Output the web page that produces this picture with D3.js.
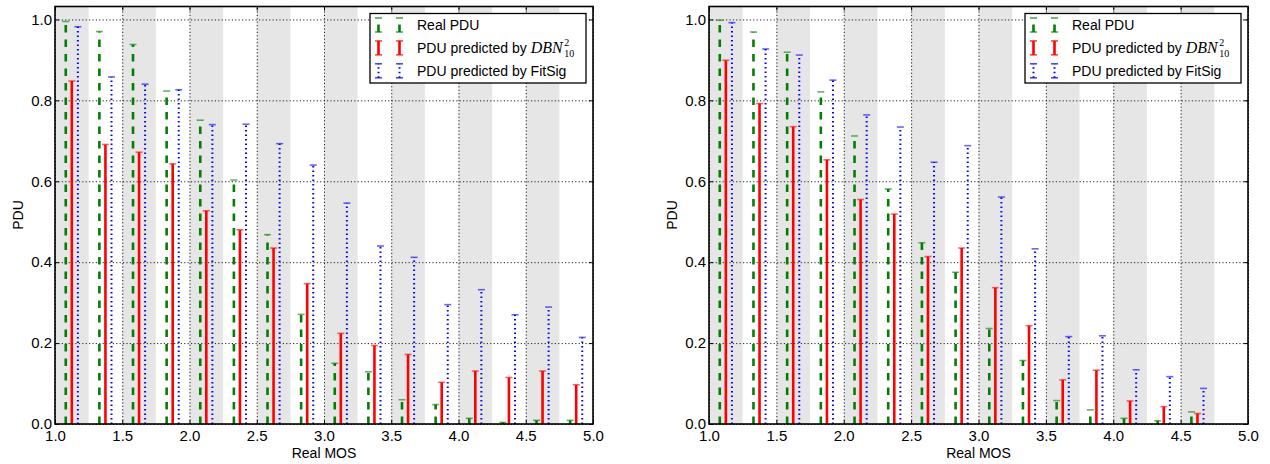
<!DOCTYPE html>
<html>
<head>
<meta charset="utf-8">
<script src="https://cdn.jsdelivr.net/npm/d3@7"></script>
<style>
  body { margin: 0; background: #fff; }
  svg { display: block; }
  text { font-family: "Liberation Sans", Arial, sans-serif; }
</style>
</head>
<body>
<div id="chart"></div>
<script>
// bin centres on the Real MOS axis (bins of width 0.25)
const mosBins = [1.125, 1.375, 1.625, 1.875, 2.125, 2.375, 2.625, 2.875,
                 3.125, 3.375, 3.625, 3.875, 4.125, 4.375, 4.625, 4.875];
const shadedBands = [1.0, 1.5, 2.0, 2.5, 3.0, 3.5, 4.0, 4.5];
const xTicks = [1.0, 1.5, 2.0, 2.5, 3.0, 3.5, 4.0, 4.5, 5.0];
const yTicks = [0.0, 0.2, 0.4, 0.6, 0.8, 1.0];

// left panel
const leftReal = [0.995, 0.970, 0.938, 0.823, 0.751, 0.603, 0.468, 0.271,
                  0.150, 0.129, 0.060, 0.048, 0.014, 0.004, 0.009, 0.009];
const leftDBN  = [0.848, 0.691, 0.672, 0.643, 0.527, 0.480, 0.435, 0.347,
                  0.224, 0.194, 0.172, 0.103, 0.131, 0.115, 0.131, 0.097];
const leftFit  = [0.982, 0.858, 0.840, 0.826, 0.740, 0.741, 0.693, 0.640,
                  0.546, 0.440, 0.412, 0.295, 0.332, 0.270, 0.289, 0.214];

// right panel (no last bin)
const rightReal = [0.998, 0.969, 0.919, 0.821, 0.712, 0.581, 0.448, 0.375,
                   0.236, 0.157, 0.058, 0.035, 0.014, 0.008, 0.030];
const rightDBN  = [0.899, 0.792, 0.735, 0.653, 0.555, 0.519, 0.414, 0.435,
                   0.337, 0.243, 0.109, 0.133, 0.057, 0.043, 0.026];
const rightFit  = [0.992, 0.927, 0.912, 0.850, 0.764, 0.734, 0.647, 0.688,
                   0.561, 0.433, 0.216, 0.218, 0.134, 0.117, 0.088];

const seriesStyle = [
  { name: "Real PDU", color: "#008000", width: 2.6, dash: "7.5,7", offset: -0.045 },
  { name: "PDU predicted by", color: "#ff0000", width: 2.6, dash: null, offset: 0 },
  { name: "PDU predicted by FitSig", color: "#0000ff", width: 2, dash: "1.5,3", offset: 0.045 }
];

const W = 1270, H = 464;
const plotTop = 6.5, plotBottom = 424;
const mathFont = "'Liberation Serif', 'DejaVu Serif', serif";

const svg = d3.select("#chart").append("svg")
  .attr("width", W).attr("height", H);

function drawPanel(x0, x1, series) {
  const x = d3.scaleLinear().domain([1, 5]).range([x0, x1]);
  const y = d3.scaleLinear().domain([0, 1.032]).range([plotBottom, plotTop]);
  const g = svg.append("g");

  // alternating grey bands
  g.selectAll("rect.band").data(shadedBands).enter().append("rect")
    .attr("x", d => x(d))
    .attr("y", plotTop)
    .attr("width", d => x(d + 0.25) - x(d))
    .attr("height", plotBottom - plotTop)
    .attr("fill", "#e6e6e6");

  // dotted grid
  const gx = g.append("g").attr("transform", `translate(0,${plotBottom})`)
    .call(d3.axisBottom(x).tickValues(xTicks).tickSize(-(plotBottom - plotTop)).tickFormat(""));
  const gy = g.append("g").attr("transform", `translate(${x0},0)`)
    .call(d3.axisLeft(y).tickValues(yTicks).tickSize(-(x1 - x0)).tickFormat(""));
  [gx, gy].forEach(a => {
    a.select(".domain").remove();
    a.selectAll("line").attr("stroke", "#222").attr("stroke-width", 1)
      .attr("stroke-dasharray", "1.2,2.2");
  });

  // error-bar style stems with caps
  series.forEach((vals, si) => {
    const s = seriesStyle[si];
    const bars = g.append("g");
    vals.forEach((v, i) => {
      const cx = x(mosBins[i] + s.offset);
      bars.append("line")
        .attr("x1", cx).attr("x2", cx)
        .attr("y1", y(0)).attr("y2", y(v))
        .attr("stroke", s.color)
        .attr("stroke-width", s.width)
        .attr("stroke-dasharray", s.dash);
      bars.append("line")
        .attr("x1", cx - 3.5).attr("x2", cx + 3.5)
        .attr("y1", y(v)).attr("y2", y(v))
        .attr("stroke", s.color)
        .attr("stroke-width", 1.6)
        .attr("stroke-opacity", 0.6);
    });
  });

  // frame
  g.append("rect")
    .attr("x", x0).attr("y", plotTop)
    .attr("width", x1 - x0).attr("height", plotBottom - plotTop)
    .attr("fill", "none").attr("stroke", "#000").attr("stroke-width", 1.6);

  // axes with inward ticks
  const ax = g.append("g").attr("transform", `translate(0,${plotBottom})`)
    .call(d3.axisBottom(x).tickValues(xTicks).tickSize(-4).tickPadding(6)
      .tickFormat(d3.format(".1f")));
  const ay = g.append("g").attr("transform", `translate(${x0},0)`)
    .call(d3.axisLeft(y).tickValues(yTicks).tickSize(-4).tickPadding(3)
      .tickFormat(d3.format(".1f")));
  const at = g.append("g").attr("transform", `translate(0,${plotTop})`)
    .call(d3.axisTop(x).tickValues(xTicks).tickSize(-4).tickFormat(""));
  const ar = g.append("g").attr("transform", `translate(${x1},0)`)
    .call(d3.axisRight(y).tickValues(yTicks).tickSize(-4).tickFormat(""));
  [ax, ay, at, ar].forEach(a => {
    a.select(".domain").remove();
    a.selectAll("line").attr("stroke", "#000").attr("stroke-width", 1);
    a.selectAll("text").attr("fill", "#000")
      .style("font-size", "15px")
      .style("font-family", "'Liberation Sans', Arial, sans-serif");
  });

  // axis titles
  g.append("text")
    .attr("x", (x0 + x1) / 2).attr("y", 458)
    .attr("text-anchor", "middle").attr("font-size", 14)
    .text("Real MOS");
  g.append("text")
    .attr("transform", `translate(${x0 - 32.5},215) rotate(-90)`)
    .attr("text-anchor", "middle").attr("font-size", 14)
    .text("PDU");

  // legend
  const lw = 216, lh = 69.5;
  const lx = x1 - 7 - lw, ly = plotTop + 7;
  const lg = g.append("g");
  lg.append("rect")
    .attr("x", lx).attr("y", ly).attr("width", lw).attr("height", lh)
    .attr("fill", "#fff").attr("stroke", "#000").attr("stroke-width", 1.3);
  seriesStyle.forEach((s, i) => {
    const cy = ly + 11.5 + i * 22.9;
    [8.5, 29.5].forEach(dx => {
      const hx = lx + dx;
      lg.append("line")
        .attr("x1", hx).attr("x2", hx).attr("y1", cy + 7).attr("y2", cy - 7)
        .attr("stroke", s.color).attr("stroke-width", s.width)
        .attr("stroke-dasharray", s.dash);
      [cy - 7, cy + 7].forEach(cyy => {
        lg.append("line")
          .attr("x1", hx - 3.5).attr("x2", hx + 3.5)
          .attr("y1", cyy).attr("y2", cyy)
          .attr("stroke", s.color).attr("stroke-width", 1.6)
          .attr("stroke-opacity", 0.7);
      });
    });
    const t = lg.append("text")
      .attr("x", lx + 47).attr("y", cy + 5)
      .attr("font-size", 14)
      .text(s.name);
    if (i === 1) {
      const tx = lx + 47 + t.node().getComputedTextLength() + 4;
      const m = lg.append("text")
        .attr("x", tx).attr("y", cy + 5)
        .style("font-family", mathFont)
        .style("font-style", "italic").style("font-size", "16px")
        .text("DBN");
      const mx = tx + m.node().getComputedTextLength() + 1.5;
      lg.append("text")
        .attr("x", mx).attr("y", cy - 1.5)
        .style("font-family", mathFont)
        .style("font-size", "10px").text("2");
      lg.append("text")
        .attr("x", mx).attr("y", cy + 9)
        .style("font-family", mathFont)
        .style("font-size", "10px").text("10");
    }
  });
}

drawPanel(55, 593, [leftReal, leftDBN, leftFit]);
drawPanel(709, 1248, [rightReal, rightDBN, rightFit]);
</script>
</body>
</html>
